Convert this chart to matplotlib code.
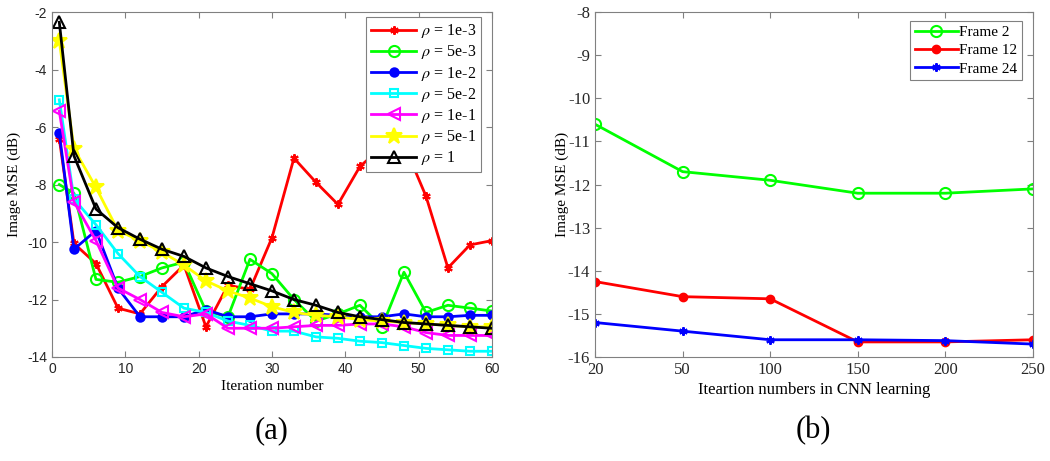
#!/usr/bin/env python3
"""
Image MSE versus iteration number for several rho values (a),
and versus CNN learning iterations for three frames (b).
"""

import matplotlib
matplotlib.use("Agg")
import matplotlib.pyplot as plt

# ---- panel (a) data ----
iterations = [1, 3, 6, 9, 12, 15, 18, 21, 24, 27, 30, 33, 36, 39, 42, 45, 48, 51, 54, 57, 60]

mse_rho_1e3 = [-6.4, -10.05, -10.75, -12.3, -12.5, -11.55, -10.8, -12.95, -11.5, -11.65, -9.85,
               -7.08, -7.92, -8.69, -7.37, -6.7, -6.6, -8.4, -10.9, -10.1, -9.95]
mse_rho_5e3 = [-8.0, -8.3, -11.3, -11.4, -11.2, -10.9, -10.7, -12.4, -12.6, -10.6, -11.1,
               -12.0, -12.75, -12.5, -12.2, -12.95, -11.05, -12.45, -12.2, -12.3, -12.4]
mse_rho_1e2 = [-6.2, -10.25, -9.6, -11.6, -12.6, -12.6, -12.6, -12.35, -12.6, -12.6, -12.5,
               -12.5, -12.5, -12.55, -12.6, -12.6, -12.5, -12.6, -12.6, -12.55, -12.55]
mse_rho_5e2 = [-5.05, -8.5, -9.4, -10.4, -11.2, -11.75, -12.3, -12.45, -12.75, -12.9, -13.1,
               -13.1, -13.3, -13.35, -13.45, -13.5, -13.6, -13.7, -13.75, -13.8, -13.8]
mse_rho_1e1 = [-5.45, -8.6, -9.95, -11.6, -12.0, -12.45, -12.6, -12.5, -13.0, -13.0, -13.0,
               -12.95, -12.9, -12.9, -12.85, -12.85, -12.95, -13.15, -13.25, -13.25, -13.25]
mse_rho_5e1 = [-3.0, -6.75, -8.1, -9.6, -9.95, -10.35, -10.8, -11.35, -11.7, -11.95, -12.25,
               -12.45, -12.55, -12.6, -12.7, -12.75, -12.8, -12.85, -12.9, -12.95, -12.95]
mse_rho_1 = [-2.35, -7.0, -8.85, -9.5, -9.9, -10.25, -10.5, -10.9, -11.2, -11.45, -11.7,
             -12.0, -12.2, -12.45, -12.6, -12.7, -12.8, -12.85, -12.9, -12.95, -13.0]

# ---- panel (b) data ----
cnn_iterations = ["20", "50", "100", "150", "200", "250"]
mse_frame_2 = [-10.6, -11.7, -11.9, -12.2, -12.2, -12.1]
mse_frame_12 = [-14.25, -14.6, -14.65, -15.65, -15.65, -15.6]
mse_frame_24 = [-15.2, -15.4, -15.6, -15.6, -15.62, -15.7]

AXIS_GRAY = "#808080"
SERIF = ["Liberation Serif", "DejaVu Serif"]
SANS = ["Liberation Sans", "DejaVu Sans"]
ASTERISK = (6, 2, 0)


def style_axes(ax):
    # matlab-like box with inward ticks on all sides
    for spine in ax.spines.values():
        spine.set_color(AXIS_GRAY)
        spine.set_linewidth(0.8)
    ax.tick_params(direction="in", top=True, right=True, length=4,
                   color=AXIS_GRAY, labelcolor="#262626")


def main():
    plt.rcParams["mathtext.fontset"] = "stix"
    plt.rcParams["axes.unicode_minus"] = False

    fig = plt.figure(figsize=(10.5, 4.61), dpi=100)
    ax_a = fig.add_axes([0.0495, 0.2256, 0.419, 0.748])
    ax_b = fig.add_axes([0.5667, 0.2256, 0.417, 0.748])

    # panel (a)
    series_a = [
        (mse_rho_1e3, "#ff0000", ASTERISK, r"$\rho$ = 1e-3", dict(markersize=6)),
        (mse_rho_5e3, "#00ff00", "o", r"$\rho$ = 5e-3", dict(markersize=8, markerfacecolor="none")),
        (mse_rho_1e2, "#0000ff", "o", r"$\rho$ = 1e-2", dict(markersize=6)),
        (mse_rho_5e2, "#00ffff", "s", r"$\rho$ = 5e-2", dict(markersize=6, markerfacecolor="none")),
        (mse_rho_1e1, "#ff00ff", "<", r"$\rho$ = 1e-1", dict(markersize=8, markerfacecolor="none")),
        (mse_rho_5e1, "#ffff00", "*", r"$\rho$ = 5e-1", dict(markersize=12)),
        (mse_rho_1, "k", "^", r"$\rho$ = 1", dict(markersize=8, markerfacecolor="none")),
    ]
    for values, color, marker, label, extra in series_a:
        ax_a.plot(iterations, values, color=color, marker=marker, lw=2,
                  markeredgewidth=1.5, label=label, **extra)

    ax_a.set_xlim(0, 60)
    ax_a.set_ylim(-14, -2)
    ax_a.set_xticks(range(0, 61, 10))
    ax_a.set_yticks(range(-14, -1, 2))
    style_axes(ax_a)
    for lbl in ax_a.get_xticklabels() + ax_a.get_yticklabels():
        lbl.set_family(SANS)
        lbl.set_fontsize(10)
    ax_a.set_xlabel("Iteration number", family=SERIF, fontsize=11, labelpad=3)
    ax_a.set_ylabel("Image MSE (dB)", family=SERIF, fontsize=11, labelpad=4)

    leg_a = ax_a.legend(loc="upper right", bbox_to_anchor=(0.975, 0.985),
                        prop={"family": SERIF, "size": 11.5}, fancybox=False,
                        framealpha=1, edgecolor=AXIS_GRAY, handlelength=2.8,
                        borderpad=0.3, labelspacing=0.2, handletextpad=0.3,
                        borderaxespad=0)
    leg_a.get_frame().set_linewidth(0.8)

    # panel (b)
    ax_b.plot(cnn_iterations, mse_frame_2, color="#00ff00", marker="o", lw=2,
              markersize=8, markerfacecolor="none", markeredgewidth=1.5, label="Frame 2")
    ax_b.plot(cnn_iterations, mse_frame_12, color="#ff0000", marker="o", lw=2,
              markersize=6, label="Frame 12")
    ax_b.plot(cnn_iterations, mse_frame_24, color="#0000ff", marker=ASTERISK, lw=2,
              markersize=6, markeredgewidth=1.5, label="Frame 24")

    ax_b.set_xlim(0, len(cnn_iterations) - 1)
    ax_b.set_ylim(-16, -8)
    ax_b.set_yticks(range(-16, -7))
    style_axes(ax_b)
    for lbl in ax_b.get_xticklabels() + ax_b.get_yticklabels():
        lbl.set_family(SERIF)
        lbl.set_fontsize(12)
    ax_b.set_xlabel("Iteartion numbers in CNN learning", family=SERIF, fontsize=12, labelpad=3)
    ax_b.set_ylabel("Image MSE (dB)", family=SERIF, fontsize=11, labelpad=-1)

    leg_b = ax_b.legend(loc="upper right", bbox_to_anchor=(0.975, 0.975),
                        prop={"family": SERIF, "size": 11}, fancybox=False,
                        framealpha=1, edgecolor=AXIS_GRAY, handlelength=2.8,
                        borderpad=0.3, labelspacing=0.3, handletextpad=0.1,
                        borderaxespad=0)
    leg_b.get_frame().set_linewidth(0.8)

    # panel captions
    fig.text(0.259, 0.05, "(a)", family=SERIF, fontsize=22, ha="center")
    fig.text(0.775, 0.05, "(b)", family=SERIF, fontsize=22, ha="center")

    fig.savefig("out.png", dpi=100)


if __name__ == "__main__":
    main()
